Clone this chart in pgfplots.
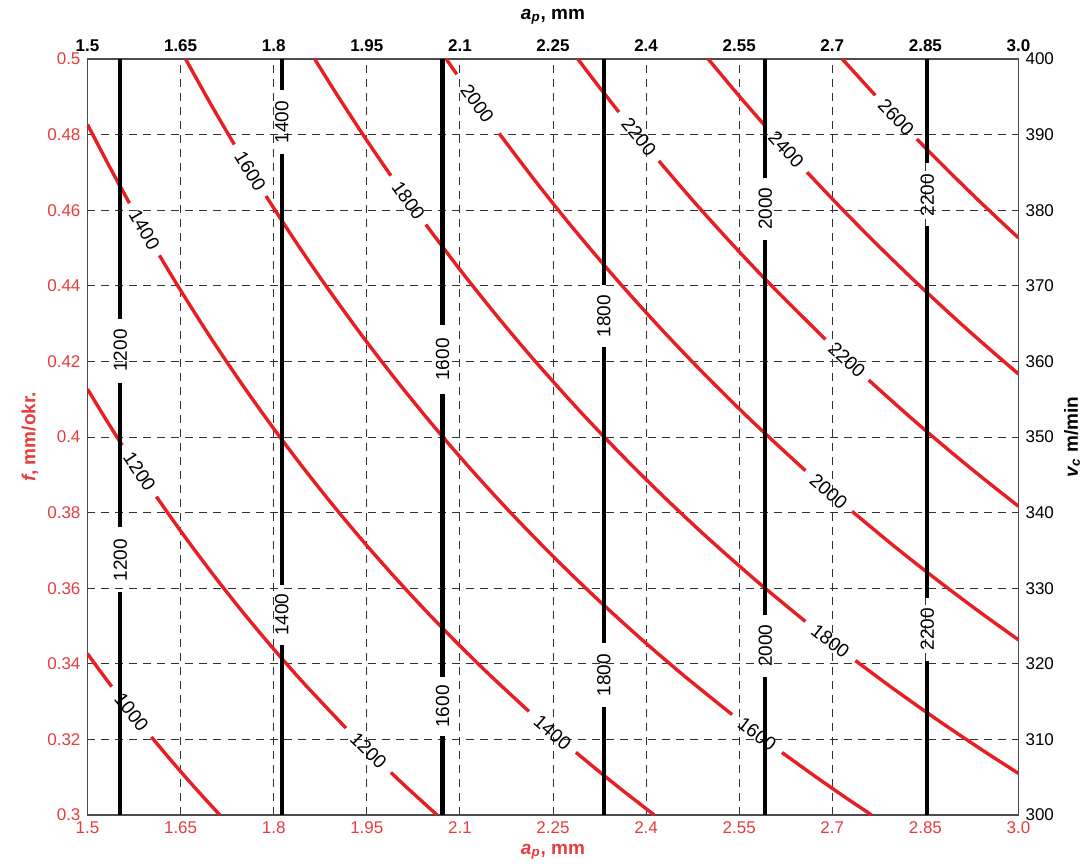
\documentclass[border=0pt]{standalone}
\usepackage{fontspec}
\setmainfont{Liberation Sans}
\usepackage{pgfplots}
\pgfplotsset{compat=1.18}
\definecolor{cred}{RGB}{232,30,36}
\definecolor{tred}{RGB}{230,60,62}
\tikzset{lab/.style={font=\fontsize{9.5}{11}\selectfont, inner sep=0pt, text=black}}
\begin{document}
\begin{tikzpicture}
\pgfplotsset{
  base/.style={
    scale only axis, width=465.5pt, height=378pt,
    xmin=1.5, xmax=3.0,
    /pgf/number format/assume math mode=true,
    major tick length=0pt,
    xtick={1.5,1.65,1.8,1.95,2.1,2.25,2.4,2.55,2.7,2.85,3.0},
    xticklabels={1.5,1.65,1.8,1.95,2.1,2.25,2.4,2.55,2.7,2.85,3.0},
  },
  redc/.style={color=cred, line width=1.7pt, smooth},
  blk/.style={black, line width=2.1pt},
}
\begin{axis}[base, name=main,
  ymin=0.3, ymax=0.5,
  ytick={0.3,0.32,0.34,0.36,0.38,0.4,0.42,0.44,0.46,0.48,0.5},
  yticklabels={0.3,0.32,0.34,0.36,0.38,0.4,0.42,0.44,0.46,0.48,0.5},
  grid=major,
  major grid style={black!80, line width=0.45pt, dash pattern=on 4pt off 3pt},
  axis line style={black!70, line width=0.6pt},
  ticklabel style={font=\fontsize{8.5}{10}\selectfont, text=tred},
  xlabel={\textbf{\textit{a}\textsubscript{\textit{p}}, mm}},
  ylabel={\textbf{\textit{f}, mm/okr.}},
  label style={font=\fontsize{9.5}{11}\selectfont, text=tred},
  xlabel style={at={(axis description cs:0.5,-0.049)}, anchor=center},
  ylabel style={at={(axis description cs:-0.0618,0.5)}, anchor=center},
]
% red contours
\addplot[redc] coordinates {(1.5,0.34267) (1.52,0.33816) (1.539,0.33398)};
\addplot[redc] coordinates {(1.603,0.32065) (1.63,0.31534) (1.66,0.30964) (1.69,0.30414) (1.7133,0.3)};
\addplot[redc] coordinates {(1.5,0.41267) (1.53,0.40458) (1.556,0.39781)};
\addplot[redc] coordinates {(1.611,0.38423) (1.65,0.37515) (1.70,0.36412) (1.75,0.35371) (1.80,0.34389) (1.85,0.33459) (1.9164,0.32300)};
\addplot[redc] coordinates {(1.9888,0.31124) (2.02,0.30644) (2.0633,0.3)};
\addplot[redc] coordinates {(1.5,0.48267) (1.535,0.47166) (1.5676,0.46185)};
\addplot[redc] coordinates {(1.6159,0.44805) (1.65,0.43879) (1.70,0.42588) (1.75,0.41371) (1.80,0.40222) (1.85,0.39135) (1.90,0.38105) (1.95,0.37128) (2.00,0.36200) (2.05,0.35317) (2.10,0.34476) (2.15,0.33674) (2.2113,0.32741)};
\addplot[redc] coordinates {(2.287,0.31657) (2.33,0.31073) (2.37,0.30549) (2.4133,0.3)};
\addplot[redc] coordinates {(1.658,0.5) (1.70,0.48765) (1.7366,0.47737)};
\addplot[redc] coordinates {(1.7876,0.46375) (1.83,0.45301) (1.88,0.44096) (1.94,0.42732) (2.00,0.4145) (2.06,0.40243) (2.12,0.39104) (2.18,0.38028) (2.25,0.36844) (2.32,0.35733) (2.39,0.34686) (2.46,0.33699) (2.5386,0.32656)};
\addplot[redc] coordinates {(2.619,0.31653) (2.67,0.31049) (2.72,0.30478) (2.7633,0.3)};
\addplot[redc] coordinates {(1.866,0.5) (1.90,0.49105) (1.95,0.47846) (1.9888,0.46913)};
\addplot[redc] coordinates {(2.0451,0.45621) (2.10,0.44429) (2.16,0.43194) (2.22,0.42027) (2.29,0.40742) (2.36,0.39534) (2.43,0.38395) (2.50,0.37320) (2.58,0.36163) (2.6567,0.35119)};
\addplot[redc] coordinates {(2.7371,0.34087) (2.80,0.33321) (2.87,0.32509) (2.94,0.31735) (3.0,0.311)};
\addplot[redc] coordinates {(2.078,0.5) (2.095,0.49594)};
\addplot[redc] coordinates {(2.1631,0.48033) (2.22,0.46802) (2.28,0.4557) (2.35,0.44213) (2.42,0.42934) (2.49,0.41727) (2.57,0.40428) (2.6567,0.39109)};
\addplot[redc] coordinates {(2.7317,0.38035) (2.80,0.37107) (2.87,0.36202) (2.94,0.3534) (3.0,0.34633)};
\addplot[redc] coordinates {(2.29,0.5) (2.32,0.49353) (2.3562,0.48595)};
\addplot[redc] coordinates {(2.4206,0.47302) (2.48,0.46169) (2.54,0.45079) (2.60,0.44038) (2.6889,0.42582)};
\addplot[redc] coordinates {(2.7586,0.41507) (2.82,0.40603) (2.88,0.39757) (2.94,0.38946) (3.0,0.38167)};
\addplot[redc] coordinates {(2.5,0.5) (2.55,0.4902) (2.5923,0.4822)};
\addplot[redc] coordinates {(2.6593,0.47005) (2.72,0.45956) (2.78,0.44964) (2.84,0.44014) (2.90,0.43103) (2.95,0.42373) (3.0,0.41667)};
\addplot[redc] coordinates {(2.716,0.5) (2.7692,0.4904)};
\addplot[redc] coordinates {(2.8362,0.47881) (2.88,0.47153) (2.94,0.4619) (3.0,0.45267)};
% black vertical contours
\addplot[blk] coordinates {(1.553,0.3) (1.553,0.3589)};
\addplot[blk] coordinates {(1.553,0.3761) (1.553,0.4144)};
\addplot[blk] coordinates {(1.553,0.4313) (1.553,0.5)};
\addplot[blk] coordinates {(1.813,0.3) (1.813,0.345)};
\addplot[blk] coordinates {(1.813,0.3609) (1.813,0.4749)};
\addplot[blk] coordinates {(1.813,0.4918) (1.813,0.5)};
\addplot[blk] coordinates {(2.072,0.3) (2.072,0.3208)};
\addplot[blk] coordinates {(2.072,0.3366) (2.072,0.4115)};
\addplot[blk] coordinates {(2.072,0.4295) (2.072,0.5)};
\addplot[blk] coordinates {(2.332,0.3) (2.332,0.3285)};
\addplot[blk] coordinates {(2.332,0.3455) (2.332,0.4238)};
\addplot[blk] coordinates {(2.332,0.4402) (2.332,0.5)};
\addplot[blk] coordinates {(2.592,0.3) (2.592,0.3366)};
\addplot[blk] coordinates {(2.592,0.353) (2.592,0.4522)};
\addplot[blk] coordinates {(2.592,0.4684) (2.592,0.5)};
\addplot[blk] coordinates {(2.853,0.3) (2.853,0.3407)};
\addplot[blk] coordinates {(2.853,0.3574) (2.853,0.4558)};
\addplot[blk] coordinates {(2.853,0.4725) (2.853,0.5)};
% labels of red contours
\node[lab, rotate=-51.8] at (axis cs:1.571,0.32718) {1000};
\node[lab, rotate=-56.3] at (axis cs:1.5837,0.39086) {1200};
\node[lab, rotate=-44.6] at (axis cs:1.9526,0.31701) {1200};
\node[lab, rotate=-60.1] at (axis cs:1.5917,0.45486) {1400};
\node[lab, rotate=-41.0] at (axis cs:2.2492,0.32189) {1400};
\node[lab, rotate=-58.4] at (axis cs:1.7621,0.47046) {1600};
\node[lab, rotate=-37.1] at (axis cs:2.5788,0.32147) {1600};
\node[lab, rotate=-54.5] at (axis cs:2.017,0.46257) {1800};
\node[lab, rotate=-37.9] at (axis cs:2.6969,0.34595) {1800};
\node[lab, rotate=-54.4] at (axis cs:2.128,0.48825) {2000};
\node[lab, rotate=-41.0] at (axis cs:2.6942,0.38564) {2000};
\node[lab, rotate=-50.8] at (axis cs:2.3884,0.4794) {2200};
\node[lab, rotate=-43.2] at (axis cs:2.7237,0.42039) {2200};
\node[lab, rotate=-47.9] at (axis cs:2.6258,0.47604) {2400};
\node[lab, rotate=-46.5] at (axis cs:2.8027,0.48453) {2600};
% labels of black contours
\node[lab, rotate=90] at (axis cs:1.553,0.4229) {1200};
\node[lab, rotate=90] at (axis cs:1.553,0.3674) {1200};
\node[lab, rotate=90] at (axis cs:1.813,0.4833) {1400};
\node[lab, rotate=90] at (axis cs:1.813,0.353) {1400};
\node[lab, rotate=90] at (axis cs:2.072,0.4205) {1600};
\node[lab, rotate=90] at (axis cs:2.072,0.3287) {1600};
\node[lab, rotate=90] at (axis cs:2.332,0.432) {1800};
\node[lab, rotate=90] at (axis cs:2.332,0.337) {1800};
\node[lab, rotate=90] at (axis cs:2.592,0.4604) {2000};
\node[lab, rotate=90] at (axis cs:2.592,0.3448) {2000};
\node[lab, rotate=90] at (axis cs:2.853,0.464) {2200};
\node[lab, rotate=90] at (axis cs:2.853,0.3492) {2200};
\end{axis}
\begin{axis}[base,
  ymin=300, ymax=400,
  ytick={300,310,320,330,340,350,360,370,380,390,400},
  yticklabels={300,310,320,330,340,350,360,370,380,390,400},
  xticklabel pos=right, yticklabel pos=right,
  axis line style={draw=none},
  xticklabel style={font=\bfseries\fontsize{8.5}{10}\selectfont, text=black},
  yticklabel style={font=\fontsize{8.5}{10}\selectfont, text=black},
  xlabel={\textbf{\textit{a}\textsubscript{\textit{p}}, mm}},
  ylabel={\textbf{\textit{v}\textsubscript{\textit{c}} m/min}},
  label style={font=\fontsize{9.5}{11}\selectfont, text=black},
  xlabel style={at={(axis description cs:0.5,1.0556)}, anchor=center},
  ylabel style={at={(axis description cs:1.0575,0.5)}, anchor=center},
]
\end{axis}
\pgfresetboundingbox
\path ([shift={(-43.75pt,-24pt)}]main.south west) rectangle ([shift={(31.75pt,29.5pt)}]main.north east);
\end{tikzpicture}
\end{document}
